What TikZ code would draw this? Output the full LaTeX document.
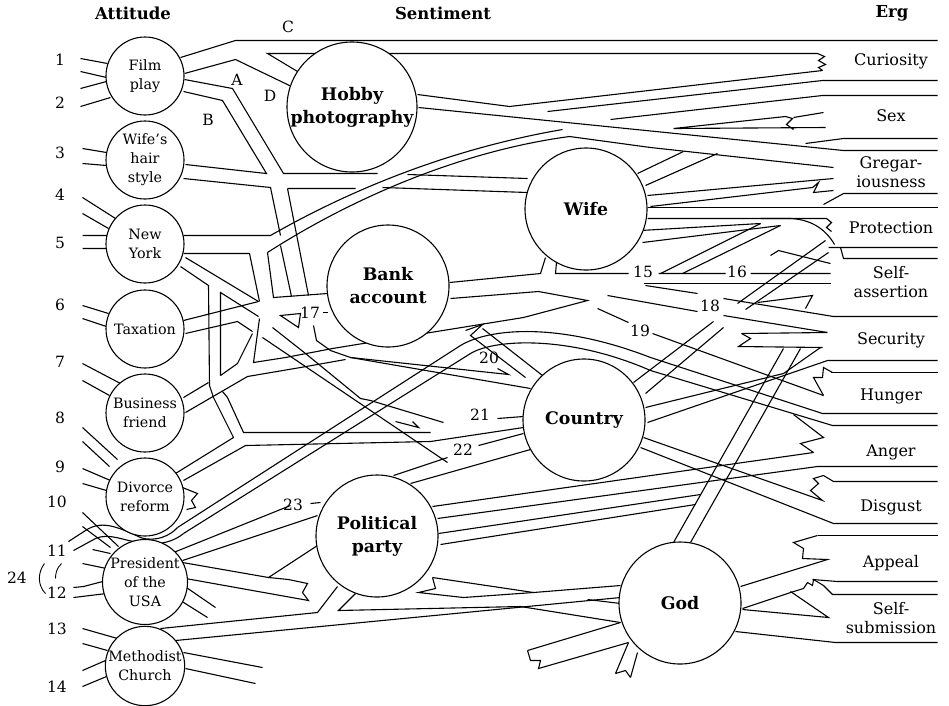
\documentclass[tikz,border=0pt]{standalone}
\usepackage{fontspec}
\setmainfont{DejaVu Serif}
\begin{document}
\begin{tikzpicture}[x=1pt,y=-1pt,
  ln/.style={line width=1.1pt, line join=miter},
  att/.style={circle, draw, line width=1.1pt, fill=white, minimum size=78pt, inner sep=0pt, align=center, font=\fontsize{14.3}{19}\selectfont},
  sent/.style={circle, draw, line width=1.1pt, fill=white, minimum size=122pt, inner sep=0pt, align=center, font=\bfseries\fontsize{17.3}{23}\selectfont},
  erg/.style={align=center, inner sep=0pt, font=\fontsize{16}{19.5}\selectfont},
  num/.style={inner sep=0pt, font=\fontsize{15.5}{18}\selectfont},
  hdr/.style={inner sep=0pt, font=\bfseries\fontsize{16.5}{19}\selectfont}]
\useasboundingbox (0,0) rectangle (949,705);
\fill[white] (0,0) rectangle (949,705);

\begin{scope}[shift={(0.5,0.5)}]
% ---------- stubs on the left of the attitudes
\draw[ln] (80,58)--(107,63) (80,71)--(106,77) (80,88)--(106,81) (80,106)--(110,97);
\draw[ln] (82,148)--(106,152) (82,163)--(106,165);
\draw[ln] (82,197)--(115,218) (82,213)--(108,228) (82,235)--(107,235) (82,248)--(106,248);
\draw[ln] (82,305)--(108,313) (82,318)--(106,326);
\draw[ln] (82,363)--(120,383) (82,380)--(109,395);
\draw[ln] (82,427)--(117,459) (82,441)--(109,466);
\draw[ln] (82,468)--(110,480) (82,483)--(106,490);
\draw[ln] (82,512)--(118,546) (82,526)--(110,547);
\draw[ln] (92,549)--(110,553) (82,563)--(106,568);
\draw[ln] (73,587)--(83,586)--(106,580) (73,597)--(106,593);
\draw[ln] (82,628)--(117,638) (82,643)--(107,650) (82,670)--(105,660) (82,686)--(106,676);
\draw[line width=0.9pt] (44,563) .. controls (37,572) and (37,585) .. (45,593);
\draw[line width=0.9pt] (61,563) .. controls (56,568) and (55,573) .. (55,578);

% ---------- film play
\draw[ln] (180,57)--(235,40)--(937,40);
\draw[ln] (184,73)--(235,59)--(291,86);
\draw[ln] (297,71)--(267,53)--(817,53)--(824,56)--(818,60)--(825,64)--(818,67)--(822,70);
\draw[ln] (184,79)--(232,88)--(283,173)--(377,173) (407,174)--(527,178);
\draw[ln] (183,91)--(222,100)--(266,173)--(185,164);

% ---------- wife's hair style
\draw[ln] (183,178)--(270,187)--(280,235);
\draw[ln] (287,188)--(308,295);
\draw[ln] (287,188)--(355,188) (382,187)--(527,192);

% ---------- New York
\draw[ln] (183,235)--(270,235) .. controls (340,195) and (440,150) .. (562,129);
\draw[ln] (267,252) .. controls (340,205) and (450,152) .. (569,136)--(650,147)--(833,167);
\draw[ln] (183,253)--(249,253)--(259,301);
\draw[ln] (185,257)--(258,301);
\draw[ln] (267,252)--(273,297)--(327,293);
\draw[ln] (280,245)--(291,296);
\draw[ln] (180,266)--(208,285)--(209,385)--(213,397)--(233,437)--(175,473);
\draw[ln] (258,316)--(220,292)--(220,375);
\draw[ln] (222,391)--(227,397)--(243,432)--(430,432);
\draw[ln] (183,480)--(245,445)--(430,441)--(523,427);
\draw[ln] (182,487)--(197,493)--(191,500)--(195,507)--(186,509);

% ---------- taxation and the hub
\draw[ln] (183,320)--(258,301);
\draw[ln] (185,333)--(237,321)--(252,331);
\draw[ln] (259,318)--(253,362)--(285,357)--(332,348)--(430,332)--(523,317)--(587,300)--(538,291)--(450,298);
\draw[ln] (280,315)--(300,313)--(298,327)--cycle;
\draw[ln] (322,312)--(327,312);
\draw[ln] (313,325)--(316,340)--(330,350)--(350,357)--(530,388);
\draw[ln] (350,357)--(508,374)--(497,368);
\draw[ln] (272,327)--(305,353)--(360,398)--(370,400)--(443,422) (497,418)--(523,416);
\draw[ln] (262,337)--(447,462);
\draw[ln] (395,421)--(418,427)--(412,421);

% ---------- business friend
\draw[ln] (183,397)--(208,382) (220,375)--(237,363)--(252,333);
\draw[ln] (185,412)--(247,376)--(300,367)--(345,359);

% ---------- bank account
\draw[ln] (449,282)--(540,273)--(545,257);
\draw[ln] (556,262)--(555,273)--(628,273) (658,273)--(725,273) (750,273)--(830,273);
\draw[ln] (643,283)--(830,283);
\draw[ln] (645,285)--(697,293) (723,298)--(833,316)--(937,316);
\draw[ln] (607,295)--(697,311) (723,315)--(827,332);
\draw[ln] (597,308)--(628,322) (652,333)--(823,395);

% ---------- hobby photography
\draw[ln] (417,94)--(509,106)--(822,70);
\draw[ln] (547,111)--(822,80)--(937,80);
\draw[ln] (610,119)--(822,95)--(937,95);
\draw[ln] (418,107)--(843,150)--(937,150);
\draw[ln] (805,143)--(843,138)--(937,138);
\draw[ln] (673,128)--(785,116)--(792,118)--(786,124)--(793,129) (673,128)--(825,127);
\draw[ln] (793,117)--(823,112);

% ---------- wife
\draw[ln] (637,173)--(683,151) (645,185)--(717,153);
\draw[ln] (647,195)--(833,178);
\draw[ln] (650,206)--(812,187)--(818,182)--(813,192)--(833,190);
\draw[ln] (823,204)--(843,193)--(937,193);
\draw[ln] (647,207)--(937,207);
\draw[ln] (647,218)--(826,218)--(831,222)--(826,227)--(831,231);
\draw[ln] (760,218)--(790,218) .. controls (812,219) and (826,230) .. (834,244);
\draw[ln] (640,230)--(760,223) (642,242)--(780,225);
\draw[ln] (660,273)--(760,223) (682,273)--(780,225);
\draw[ln] (828,247)--(937,247) (840,247)--(843,258)--(937,258);
\draw[ln] (770,255)--(778,250)--(830,263);
\draw[ln] (757,302)--(812,295)--(805,308);

% ---------- country
\draw[ln] (633,382)--(713,321) (737,303)--(825,240);
\draw[ln] (645,393)--(723,327) (745,309)--(828,252);
\draw[ln] (645,407)--(783,373)--(820,347);
\draw[ln] (647,422)--(827,360)--(937,360);
\draw[ln] (830,372)--(937,372);
\draw[ln] (832,372)--(823,367)--(822,377)--(813,377)--(823,395);
\draw[ln] (643,437)--(822,500)--(810,490)--(818,483)--(813,478)--(823,475)--(833,481)--(937,481);
\draw[ln] (640,447)--(833,523)--(937,523);
\draw[ln] (817,535)--(937,535);
\draw[ln] (482,328)--(542,375);
\draw[ln] (465,330)--(482,324)--(470,335)--(525,377);

% ---------- arc over the country
\draw[ln] (177,527)--(460,345) .. controls (490,327) and (560,322) .. (650,357)--(822,413)--(937,413);
\draw[ln] (183,533)--(470,353) .. controls (495,338) and (570,335) .. (650,370)--(832,425)--(937,425);
\draw[ln] (793,414)--(823,437)--(800,443)--(813,452);

% ---------- political party
\draw[ln] (432,506)--(813,452);
\draw[ln] (437,518)--(817,466)--(937,466);
\draw[ln] (438,533)--(700,494);
\draw[ln] (440,544)--(695,504);
\draw[ln] (393,475)--(447,457) (478,445)--(523,433);
\draw[ln] (410,483)--(530,449);
\draw[ln] (432,577)--(533,592)--(620,585);
\draw[ln] (432,577)--(435,588)--(418,592)--(463,597)--(533,592);
\draw[ln] (173,552)--(290,505) (310,503)--(320,502);
\draw[ln] (182,560)--(317,515);
\draw[ln] (182,562)--(268,577)--(317,545);
\draw[ln] (268,577)--(288,579)--(307,583)--(302,592)--(308,600)--(185,578);
\draw[ln] (183,585)--(215,607) (180,600)--(207,617);

% ---------- methodist church
\draw[ln] (160,628)--(317,612)--(337,586);
\draw[ln] (355,593)--(338,610)--(520,606)--(620,622);
\draw[ln] (175,640)--(620,597);
\draw[ln] (587,599)--(620,603);
\draw[ln] (183,652)--(262,667) (185,668)--(255,683);

% ---------- divorce reform / president curve (start)
\draw[ln] (68,541)--(85,530) .. controls (100,520) and (115,525) .. (140,537) .. controls (155,542) and (170,535) .. (177,527);
\draw[ln] (73,550)--(95,538) .. controls (110,532) and (120,540) .. (145,543) .. controls (160,545) and (175,540) .. (183,533);

% ---------- god
\draw[ln] (673,542)--(783,348);
\draw[ln] (690,542)--(800,348);
\draw[ln] (741,333)--(826,332);
\draw[ln] (741,333)--(750,338)--(738,346)--(822,347);
\draw[ln] (527,650)--(620,622);
\draw[ln] (527,650)--(530,660)--(540,660)--(538,668)--(628,642);
\draw[ln] (615,673)--(628,642) (630,677)--(637,652) (615,673)--(625,670)--(630,677);
\draw[ln] (740,586)--(827,559)--(802,558)--(803,548)--(793,542)--(817,535);
\draw[ln] (742,608)--(790,592)--(803,588)--(807,582)--(812,585)--(813,579)--(823,585)--(832,594)--(937,594);
\draw[ln] (812,579)--(837,581)--(937,581);
\draw[ln] (790,591)--(828,617)--(742,609);
\draw[ln] (735,631)--(835,642)--(937,642);
\end{scope}

% ---------- attitudes
\node[att] (film) at (145,76) {Film\\play};
\node[att] (hair) at (145,160) {Wife’s\\hair\\style};
\node[att] (ny) at (145,244) {New\\York};
\node[att] (tax) at (145,329) {Taxation};
\node[att] (busi) at (145,413) {Business\\friend};
\node[att] (divo) at (145,497) {Divorce\\reform};
\node[att] (pres) at (145,582) {President\\of the\\USA};
\node[att] (meth) at (145,666) {Methodist\\Church};

% ---------- sentiments
\node[sent, minimum size=130pt] (hobby) at (352,107) {Hobby\\photography};
\node[sent] (wife) at (586,209) {Wife};
\node[sent] (bank) at (388,286) {Bank\\account};
\node[sent] (country) at (584,420) {Country};
\node[sent] (party) at (377,536) {Political\\party};
\node[sent] (god) at (680,603) {God};

% ---------- headings
\node[hdr] (h1) at (133,13) {Attitude};
\node[hdr] (h2) at (443,13) {Sentiment};
\node[hdr] (h3) at (892,13) {Erg};

% ---------- ergs
\node[erg] (e1) at (891,61) {Curiosity};
\node[erg] (e2) at (891,116) {Sex};
\node[erg] (e3) at (891,172) {Gregar-\\iousness};
\node[erg] (e4) at (891,228) {Protection};
\node[erg] (e5) at (891,282) {Self-\\assertion};
\node[erg] (e6) at (891,340) {Security};
\node[erg] (e7) at (891,396) {Hunger};
\node[erg] (e8) at (891,452) {Anger};
\node[erg] (e9) at (891,507) {Disgust};
\node[erg] (e10) at (891,563) {Appeal};
\node[erg] (e11) at (891,618) {Self-\\submission};

% ---------- numbers and letters
\foreach \n/\y in {1/60,2/103,3/153,4/195,5/243,6/305,7/362,8/418,9/467}
  \node[num] (n\n) at (60,\y) {\n};
\foreach \n/\y in {10/502,11/551,12/593,13/629,14/687}
  \node[num] (n\n) at (57,\y) {\n};
\node[num] (n24) at (17,578) {24};
\node[num] (n15) at (643,272) {15};
\node[num] (n16) at (737,272) {16};
\node[num] (n17) at (310,313) {17};
\node[num] (n18) at (710,306) {18};
\node[num] (n19) at (640,331) {19};
\node[num] (n20) at (489,358) {20};
\node[num] (n21) at (480,415) {21};
\node[num] (n22) at (463,450) {22};
\node[num] (n23) at (293,505) {23};
\node[num] (la) at (237,80) {A};
\node[num] (lb) at (208,120) {B};
\node[num] (lc) at (288,27) {C};
\node[num] (ld) at (270,96) {D};
\end{tikzpicture}
\end{document}
